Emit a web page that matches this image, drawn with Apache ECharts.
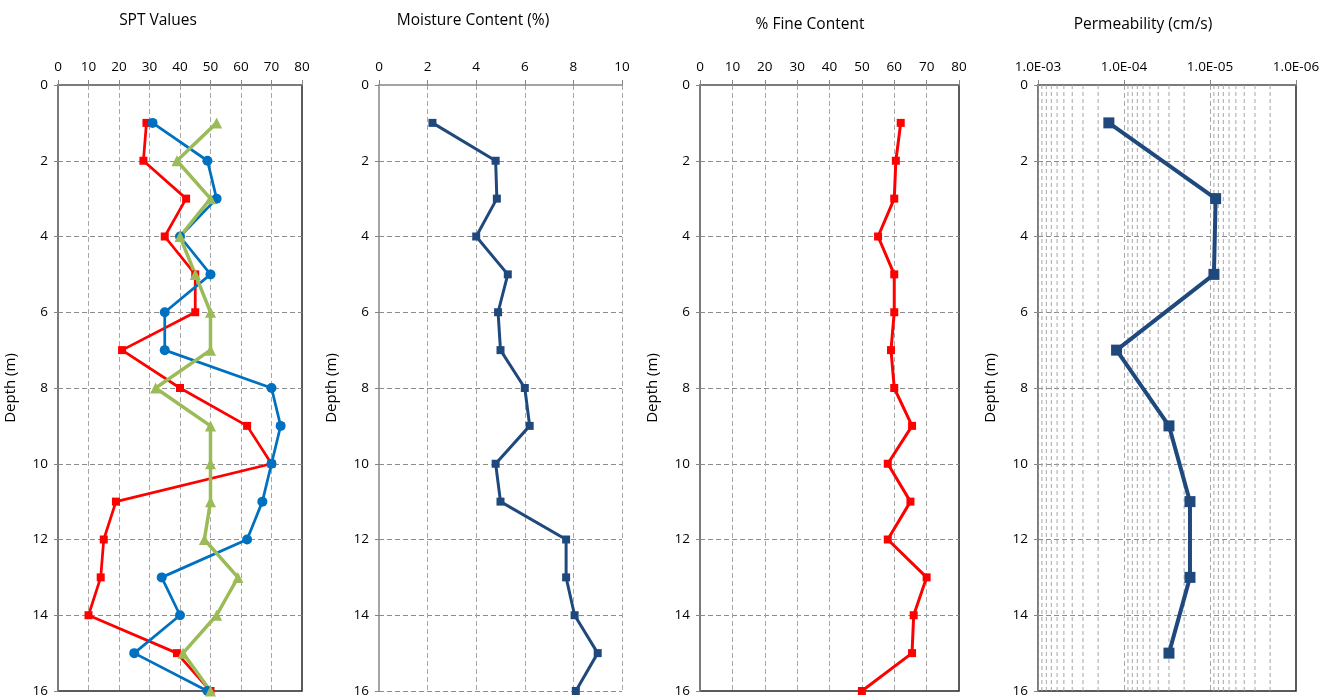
<!DOCTYPE html>
<html><head><meta charset="utf-8">
<script src="https://cdn.jsdelivr.net/npm/echarts@6/dist/echarts.min.js"></script>
<style>html,body{margin:0;padding:0;background:#fff}#c{width:1335px;height:700px}</style>
</head><body><div id="c"></div>
<script>
// ---- data ----
const depths = [1,2,3,4,5,6,7,8,9,10,11,12,13,14,15,16];
const sptRed   = [29,28,42,35,45,45,21,40,62,70,19,15,14,10,39,50];
const sptBlue  = [31,49,52,40,50,35,35,70,73,70,67,62,34,40,25,49];
const sptGreen = [52,39,50,40,45,50,50,32,50,50,50,48,59,52,41,50];
const moisture = [2.2,4.8,4.85,4.0,5.3,4.9,5.0,6.0,6.2,4.8,5.0,7.7,7.7,8.05,9.0,8.1];
const fines    = [62,60.5,60,55,60,60,59,60,65.5,58,65,58,70,66,65.5,50];
const permDepths = [1,3,5,7,9,11,13,15];
const permeability = [1.5e-4,8.6e-6,9.0e-6,1.22e-4,3.0e-5,1.71e-5,1.71e-5,3.0e-5];
const titles = ['SPT Values','Moisture Content (%)','% Fine Content','Permeability (cm/s)'];
const depthTicks = {min:0,max:16,interval:2};
const sptTicks = {min:0,max:80,interval:10};
const moistTicks = {min:0,max:10,interval:2};
const fineTicks = {min:0,max:80,interval:10};
const permRange = {min:1e-6,max:1e-3};
const permMinor = [];
[1e-4,1e-5,1e-6].forEach(b => { for (let k=2;k<=9;k++) permMinor.push(+(b*k).toPrecision(3)); });

// ---- styling ----
const FONT = 'Open Sans';
const grids = [
  {left:58,  top:85, width:244, height:606, border:true},
  {left:379, top:85, width:243, height:606, border:false},
  {left:700, top:85, width:259, height:606, border:true},
  {left:1038,top:85, width:258, height:606, border:true}
];
const titlePos = [[158,21],[473,21],[810,25],[1143,25]];
const axisGray = '#868686';
const gridDash = {color:'#a8a8a8', width:1, type:[5,3]};

function xAxisCfg(i, ticks, extra){
  const g = grids[i];
  return Object.assign({
    gridIndex:i, type:'value', position:'top',
    min:ticks.min, max:ticks.max, interval:ticks.interval,
    axisLine:{show:true, onZero:false, lineStyle:{color:axisGray, width:1.5}},
    axisTick:{show:true, length:5, lineStyle:{color:axisGray}},
    axisLabel:{color:'#000', fontFamily:FONT, fontSize:13.5, margin:11},
    splitLine:{show:true, showMinLine:false, showMaxLine:!g.border, lineStyle:gridDash}
  }, extra||{});
}
function yAxisCfg(i){
  const g = grids[i];
  return {
    gridIndex:i, type:'value', inverse:true,
    min:depthTicks.min, max:depthTicks.max, interval:depthTicks.interval,
    name:'Depth (m)', nameLocation:'middle', nameGap:40, nameRotate:90,
    nameTextStyle:{color:'#000', fontFamily:FONT, fontSize:15},
    axisLine:{show:true, onZero:false, lineStyle:{color:axisGray, width:1.5}},
    axisTick:{show:true, length:4, lineStyle:{color:axisGray}},
    axisLabel:{color:'#000', fontFamily:FONT, fontSize:13.5, margin:10},
    splitLine:{show:true, showMinLine:false, showMaxLine:!g.border, lineStyle:{color:'#8c8c8c', width:1, type:[5,3]}}
  };
}

const minorSeries = permMinor.map(v => ({
  type:'line', xAxisIndex:3, yAxisIndex:3, z:1, silent:true, symbol:'none',
  data:[[v, depthTicks.min],[v, depthTicks.max]],
  lineStyle:{color:'#a6a6a6', width:1, type:[4,3]}, emphasis:{disabled:true}
}));

const option = {
  animation:false,
  backgroundColor:'#fff',
  grid: grids.map(g => ({left:g.left, top:g.top, width:g.width, height:g.height,
    show:g.border, borderColor:'#262626', borderWidth:1.5, backgroundColor:'transparent'})),
  xAxis:[
    xAxisCfg(0, sptTicks),
    xAxisCfg(1, moistTicks),
    xAxisCfg(2, fineTicks),
    xAxisCfg(3, {min:permRange.min, max:permRange.max}, {
      type:'log', logBase:10, inverse:true, interval:undefined,
      axisLabel:{color:'#000', fontFamily:FONT, fontSize:13.5, margin:11,
        formatter: v => { const e = Math.round(Math.log10(v)); const a = Math.abs(e);
          return '1.0E' + (e<0?'-':'+') + (a<10?'0':'') + a; }},
      splitLine:{show:true, showMinLine:false, showMaxLine:false, lineStyle:gridDash}
    })
  ],
  yAxis:[yAxisCfg(0), yAxisCfg(1), yAxisCfg(2), yAxisCfg(3)],
  graphic: titles.map((t,i) => ({type:'text', x:titlePos[i][0], y:titlePos[i][1],
    style:{text:t, fill:'#000', font:'15.5px "'+FONT+'"', textAlign:'center', textVerticalAlign:'middle'}})),
  series:[
    {type:'line', xAxisIndex:0, yAxisIndex:0, data:depths.map((d,i)=>[sptRed[i],d]),
      symbol:'rect', symbolSize:8, itemStyle:{color:'#FF0000'}, lineStyle:{color:'#FF0000', width:2.75}},
    {type:'line', xAxisIndex:0, yAxisIndex:0, data:depths.map((d,i)=>[sptBlue[i],d]),
      symbol:'circle', symbolSize:10, itemStyle:{color:'#0070C0'}, lineStyle:{color:'#0070C0', width:2.75}},
    {type:'line', xAxisIndex:0, yAxisIndex:0, data:depths.map((d,i)=>[sptGreen[i],d]),
      symbol:'triangle', symbolSize:11, itemStyle:{color:'#9BBB59'}, lineStyle:{color:'#9BBB59', width:3.5}},
    {type:'line', xAxisIndex:1, yAxisIndex:1, data:depths.map((d,i)=>[moisture[i],d]),
      symbol:'rect', symbolSize:8, itemStyle:{color:'#1F497D'}, lineStyle:{color:'#1F497D', width:3}},
    {type:'line', xAxisIndex:2, yAxisIndex:2, data:depths.map((d,i)=>[fines[i],d]),
      symbol:'rect', symbolSize:8, itemStyle:{color:'#FF0000'}, lineStyle:{color:'#FF0000', width:3}},
    ...minorSeries,
    {type:'line', xAxisIndex:3, yAxisIndex:3, z:3, data:permDepths.map((d,i)=>[permeability[i],d]),
      symbol:'rect', symbolSize:11, itemStyle:{color:'#1F497D'}, lineStyle:{color:'#1F497D', width:4}}
  ]
};
const chart = echarts.init(document.getElementById('c'), null, {renderer:'canvas'});
chart.setOption(option);
</script>
</body></html>
